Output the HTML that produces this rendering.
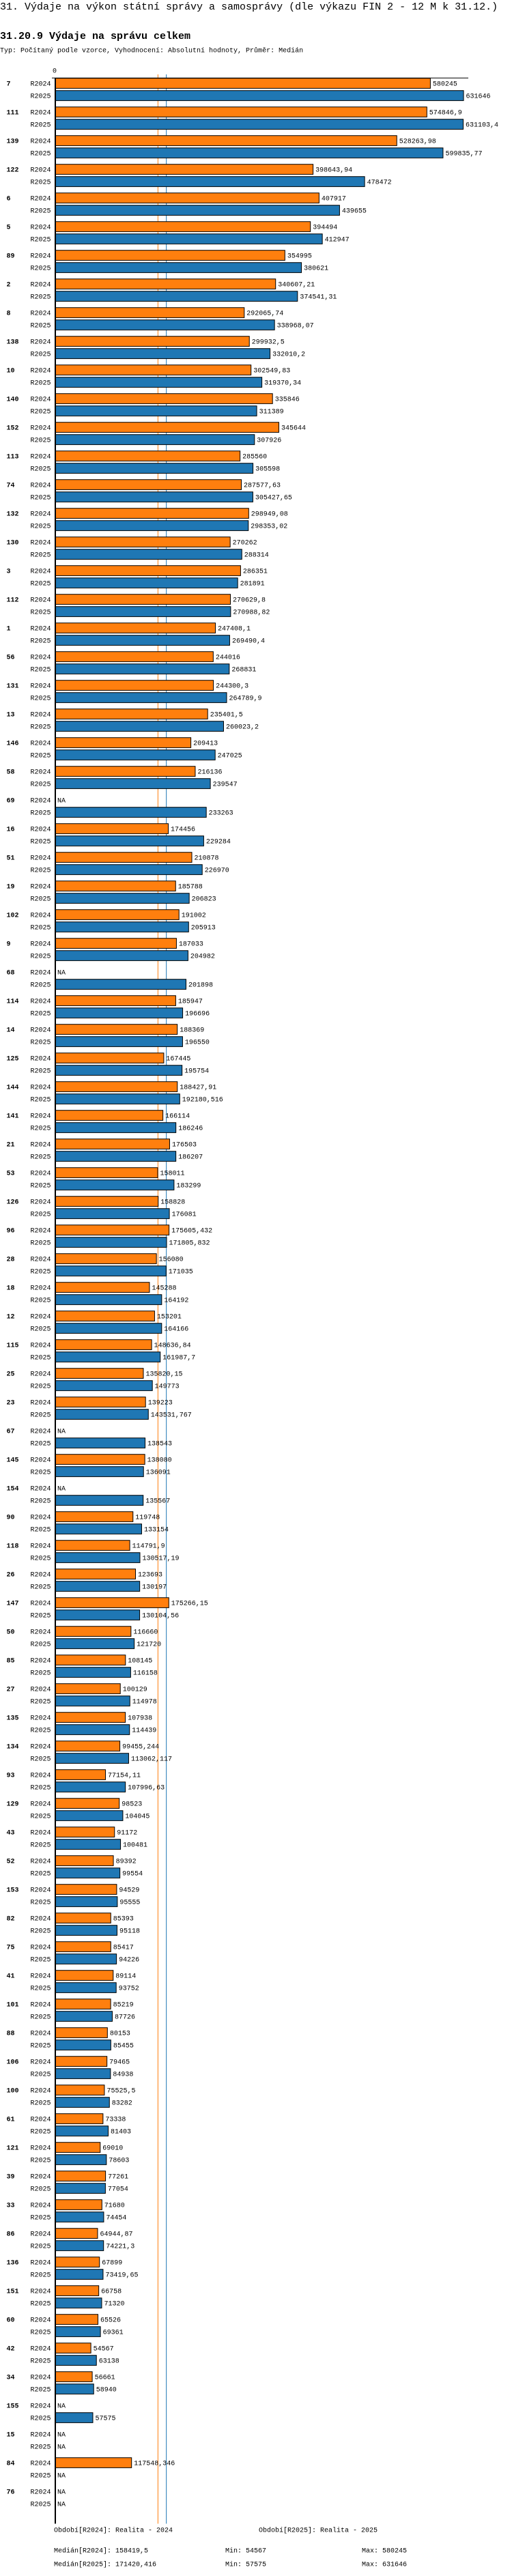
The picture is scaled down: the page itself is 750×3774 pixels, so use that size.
<!DOCTYPE html>
<html><head><meta charset="utf-8"><style>
html,body{margin:0;padding:0;background:#fff;width:750px;height:3774px;overflow:hidden}
svg{display:block}
text{font-family:"Liberation Mono",monospace;fill:#000}
</style></head><body>
<svg id="chart" width="750" height="3774" xmlns="http://www.w3.org/2000/svg">
<text x="0" y="14" font-size="15">31. Výdaje na výkon státní správy a samosprávy (dle výkazu FIN 2 - 12 M k 31.12.)</text>
<text x="0" y="57" font-size="15" font-weight="bold">31.20.9 Výdaje na správu celkem</text>
<text x="0" y="76.5" font-size="10">Typ: Počítaný podle vzorce, Vyhodnocení: Absolutní hodnoty, Průměr: Medián</text>
<text x="80" y="106.5" font-size="10" text-anchor="middle">0</text>
<g id="marks"></g>
<g font-size="10">
<text x="79" y="3709.5">Období[R2024]: Realita - 2024</text>
<text x="379" y="3709.5">Období[R2025]: Realita - 2025</text>
<text x="79" y="3739.5">Medián[R2024]: 158419,5</text>
<text x="330" y="3739.5">Min: 54567</text>
<text x="530" y="3739.5">Max: 580245</text>
<text x="79" y="3759.5">Medián[R2025]: 171420,416</text>
<text x="330" y="3759.5">Min: 57575</text>
<text x="530" y="3759.5">Max: 631646</text>
</g>
</svg>
<script>
const categories = ["7","111","139","122","6","5","89","2","8","138","10","140","152","113","74","132","130","3","112","1","56","131","13","146","58","69","16","51","19","102","9","68","114","14","125","144","141","21","53","126","96","28","18","12","115","25","23","67","145","154","90","118","26","147","50","85","27","135","134","93","129","43","52","153","82","75","41","101","88","106","100","61","121","39","33","86","136","151","60","42","34","155","15","84","76"];
const seriesR2024 = [580245,574846.9,528263.98,398643.94,407917,394494,354995,340607.21,292065.74,299932.5,302549.83,335846,345644,285560,287577.63,298949.08,270262,286351,270629.8,247408.1,244016,244300.3,235401.5,209413,216136,null,174456,210878,185788,191002,187033,null,185947,188369,167445,188427.91,166114,176503,158011,158828,175605.432,156080,145288,153201,148636.84,135820.15,139223,null,138080,null,119748,114791.9,123693,175266.15,116660,108145,100129,107938,99455.244,77154.11,98523,91172,89392,94529,85393,85417,89114,85219,80153,79465,75525.5,73338,69010,77261,71680,64944.87,67899,66758,65526,54567,56661,null,null,117548.346,null];
const seriesR2025 = [631646,631103.4,599835.77,478472,439655,412947,380621,374541.31,338968.07,332010.2,319370.34,311389,307926,305598,305427.65,298353.02,288314,281891,270988.82,269490.4,268831,264789.9,260023.2,247025,239547,233263,229284,226970,206823,205913,204982,201898,196696,196550,195754,192180.516,186246,186207,183299,176081,171805.832,171035,164192,164166,161987.7,149773,143531.767,138543,136091,135567,133154,130517.19,130197,130104.56,121720,116158,114978,114439,113062.117,107996.63,104045,100481,99554,95555,95118,94226,93752,87726,85455,84938,83282,81403,78603,77054,74454,74221.3,73419.65,71320,69361,63138,58940,57575,null,null,null];
const seriesNames = ["R2024","R2025"];
const medians = [158419.5,171420.416];

const NS = "http://www.w3.org/2000/svg";
const X0 = 81.5, SCALE = 0.000946;
const x = v => X0 + v * SCALE;
const TOP = 114.7, PITCH = 42, SUB = 18, BAR_H = 14.7;
const y = (i, s) => TOP + i * PITCH + s * SUB;
const colors = ["#ff7f0e", "#1f77b4"];
const g = document.getElementById('marks');
function mk(tag, attrs, parent) {
  const e = document.createElementNS(NS, tag);
  for (const k in attrs) e.setAttribute(k, attrs[k]);
  (parent || g).appendChild(e);
  return e;
}
const endY = y(categories.length - 1, 1) + BAR_H + 22;
// median lines
medians.forEach((m, s) => {
  const l = mk('line', {x1: x(m), x2: x(m), y1: 109, y2: endY, stroke: colors[s], 'stroke-width': 1});
  
  
});
// axes
const ax = mk('line', {x1: 76, x2: 686, y1: 114.3, y2: 114.3, stroke: '#000', 'stroke-width': 1});


const ay = mk('line', {x1: 81, x2: 81, y1: 114, y2: endY, stroke: '#000', 'stroke-width': 2});


const fmt = v => String(v).replace('.', ',');
categories.forEach((c, i) => {
  const cl = mk('text', {x: 9.5, y: y(i, 0) + 11, 'font-size': 10, 'font-weight': 'bold'});
  cl.textContent = c;
  
  
  [seriesR2024, seriesR2025].forEach((arr, s) => {
    const yy = y(i, s);
    const sl = mk('text', {x: 44.5, y: yy + 11, 'font-size': 10});
    sl.textContent = seriesNames[s];
    
    
    const v = arr[i];
    let tx = 84;
    if (v !== null) {
      const r = mk('rect', {x: X0, y: yy, width: x(v) - X0, height: BAR_H, fill: colors[s], stroke: '#000', 'stroke-width': 1});
      
      
      tx = x(v) + 3.5;
    }
    const vl = mk('text', {x: tx, y: yy + 11, 'font-size': 10});
    vl.textContent = v === null ? 'NA' : fmt(v);
    
    
  });
});
</script>
</body></html>
